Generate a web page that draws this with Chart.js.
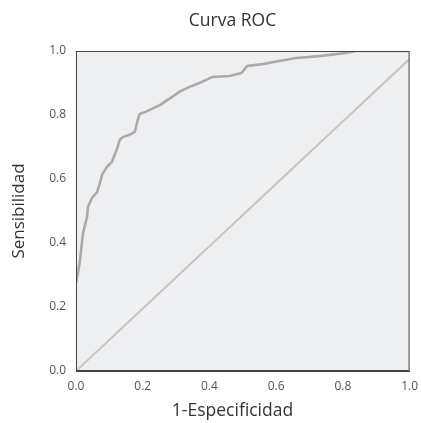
<!DOCTYPE html>
<html>
<head>
<meta charset="utf-8">
<script src="https://cdn.jsdelivr.net/npm/chart.js@4.4.0/dist/chart.umd.min.js"></script>
<style>
html,body{margin:0;padding:0;background:#fff;}
#wrap{width:421px;height:423px;}
</style>
</head>
<body>
<div id="wrap"><canvas id="c" width="421" height="423"></canvas></div>
<script>
const chartTitle = "Curva ROC";
const xTitle = "1-Especificidad";
const yTitle = "Sensibilidad";
const tickValues = [0, 0.2, 0.4, 0.6, 0.8, 1.0];

// ROC curve
const rocX = [0, 0.006, 0.012, 0.021, 0.033, 0.036, 0.048, 0.063, 0.072, 0.078, 0.093, 0.107, 0.122, 0.131, 0.140, 0.161, 0.176, 0.185, 0.191, 0.206, 0.221, 0.251, 0.287, 0.310, 0.340, 0.370, 0.409, 0.460, 0.496, 0.513, 0.558, 0.609, 0.660, 0.728, 0.809, 0.839, 1.0];
const rocY = [0.275, 0.306, 0.347, 0.431, 0.481, 0.513, 0.541, 0.559, 0.588, 0.613, 0.638, 0.653, 0.691, 0.722, 0.731, 0.738, 0.747, 0.784, 0.803, 0.809, 0.816, 0.831, 0.856, 0.872, 0.888, 0.900, 0.919, 0.922, 0.931, 0.953, 0.959, 0.969, 0.978, 0.984, 0.994, 1.0, 1.0];

// Reference diagonal
const diagX = [0, 1];
const diagY = [0, 0.975];

const toPts = (xs, ys) => xs.map((x, i) => ({x: x, y: ys[i]}));

const bgPlugin = {
  id: 'plotBg',
  afterLayout(chart) {
    // centre the title texts the way the reference does
    (chart.boxes || []).forEach(b => {
      if (b && b.options && (b.options.text === chartTitle || b.options.text === xTitle) && typeof b.left === 'number') {
        b.left = 54; b.right = 411;
      }
    });
  },
  beforeDraw(chart) {
    const {ctx, chartArea: a} = chart;
    ctx.save();
    ctx.fillStyle = '#eeeff1';
    ctx.fillRect(a.left, a.top, a.right - a.left, a.bottom - a.top);
    ctx.restore();
  },
  afterDraw(chart) {
    const {ctx, chartArea: a} = chart;
    ctx.save();
    ctx.strokeStyle = '#444';
    ctx.lineWidth = 1;
    ctx.strokeRect(a.left + 0.5, a.top + 0.5, a.right - a.left - 1, a.bottom - a.top - 1);
    ctx.restore();
  }
};

const font = "'Open Sans', 'Noto Sans', sans-serif";

new Chart(document.getElementById('c'), {
  type: 'scatter',
  data: {
    datasets: [
      {
        data: toPts(diagX, diagY),
        showLine: true,
        borderColor: '#c4c4c4',
        borderWidth: 2,
        pointRadius: 0,
        tension: 0
      },
      {
        data: toPts(rocX, rocY),
        showLine: true,
        borderColor: '#aaaaaa',
        borderWidth: 2.6,
        pointRadius: 0,
        tension: 0
      }
    ]
  },
  options: {
    responsive: false,
    animation: false,
    devicePixelRatio: 1,
    layout: {padding: {left: 0, right: 10, top: 0, bottom: 0}},
    plugins: {
      legend: {display: false},
      tooltip: {enabled: false},
      title: {
        display: true,
        text: chartTitle,
        color: '#333',
        font: {family: font, size: 17.5, weight: 'normal', lineHeight: 1.2},
        padding: {top: 11, bottom: 19}
      },
      subtitle: {
        display: true,
        position: 'bottom',
        text: xTitle,
        color: '#333',
        font: {family: font, size: 17.5, weight: 'normal', lineHeight: 1.2},
        padding: {top: 0, bottom: 1}
      }
    },
    scales: {
      x: {
        type: 'linear',
        min: 0, max: 1,
        afterFit(s) { s.height = 30; },
        afterBuildTicks(s) { s.ticks = tickValues.map(v => ({value: v})); },
        grid: {display: false, drawOnChartArea: false, drawTicks: true, tickLength: 5, tickColor: '#444'},
        border: {display: true, color: '#444'},
        ticks: {
          color: '#555',
          padding: 3,
          font: {family: font, size: 12},
          maxRotation: 0,
          callback: v => v.toFixed(1)
        },
        title: {display: false}
      },
      y: {
        type: 'linear',
        min: 0, max: 1,
        afterFit(s) { s.width = 76; },
        afterBuildTicks(s) { s.ticks = tickValues.map(v => ({value: v})); },
        grid: {display: false, drawOnChartArea: false, drawTicks: true, tickLength: 6, tickColor: '#444'},
        border: {display: true, color: '#444'},
        ticks: {
          color: '#555',
          padding: 4,
          font: {family: font, size: 12},
          callback: v => v.toFixed(1)
        },
        title: {
          display: true,
          text: yTitle,
          color: '#333',
          font: {family: font, size: 17, lineHeight: 1.2},
          padding: {top: 9, bottom: 0}
        }
      }
    }
  },
  plugins: [bgPlugin]
});
</script>
</body>
</html>
